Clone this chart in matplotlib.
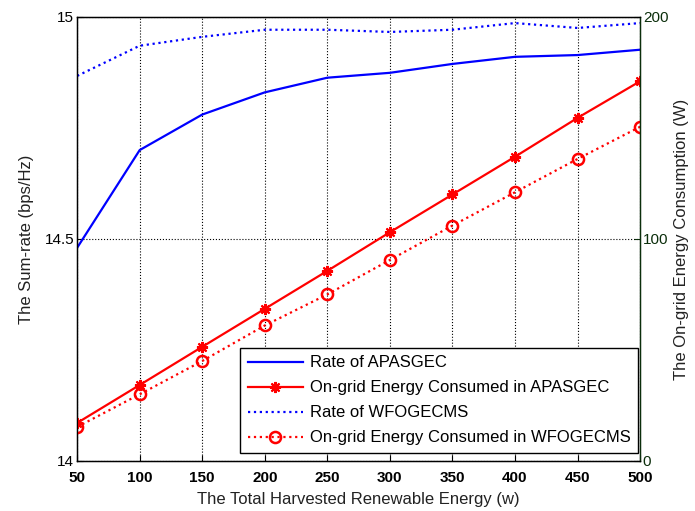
import matplotlib
matplotlib.use('Agg')
import matplotlib.pyplot as plt
import numpy as np

plt.rcParams['font.family'] = ['Liberation Sans', 'DejaVu Sans']

energy = [50, 100, 150, 200, 250, 300, 350, 400, 450, 500]
rate_apasgec = [14.48, 14.70, 14.78, 14.83, 14.863, 14.874, 14.894, 14.91, 14.914, 14.926]
rate_wfogecms = [14.867, 14.935, 14.955, 14.971, 14.971, 14.966, 14.971, 14.986, 14.975, 14.986]
grid_apasgec = [17.1, 34.2, 51.4, 68.5, 85.6, 103, 120, 137, 154.5, 171]
grid_wfogecms = [15.3, 30, 45, 61, 75, 90.5, 106, 121, 136, 150.5]

green = '#0b2e0b'

fig = plt.figure(figsize=(6.95, 5.11), dpi=100)
ax = fig.add_axes([0.111, 0.098, 0.81, 0.869])
ax2 = ax.twinx()

l1, = ax.plot(energy, rate_apasgec, '-', color='blue', lw=1.6, label='Rate of APASGEC')
l3, = ax.plot(energy, rate_wfogecms, ':', color='blue', lw=1.6, label='Rate of WFOGECMS')
l2, = ax2.plot(energy, grid_apasgec, '-', color='red', lw=1.6, marker=(8, 2, 0),
               markersize=8, mew=1.5, label='On-grid Energy Consumed in APASGEC')
l4, = ax2.plot(energy, grid_wfogecms, ':', color='red', lw=1.6, marker='o',
               markersize=8, mfc='none', mew=1.8, label='On-grid Energy Consumed in WFOGECMS')

ax.set_xlim(50, 500)
ax.set_ylim(14, 15)
ax2.set_ylim(0, 200)
ax.set_xticks(energy)
ax.set_yticks([14, 14.5, 15])
ax.set_yticklabels(['14', '14.5', '15'])
ax2.set_yticks([0, 100, 200])
ax.grid(True, color='black', linestyle=':', linewidth=0.8)

ax.tick_params(direction='in', length=4, labelsize=11)
for lab in ax.get_xticklabels():
    lab.set_fontweight('bold')
ax.tick_params(axis='x', pad=7)
ax.tick_params(axis='y', pad=2)
ax2.tick_params(direction='in', length=4, labelsize=11, colors=green, pad=2)
ax2.spines['right'].set_color(green)
for s in ['top', 'left', 'bottom']:
    ax.spines[s].set_linewidth(1.0)
ax2.spines['right'].set_linewidth(1.0)

ax.set_xlabel('The Total Harvested Renewable Energy (w)', fontsize=12, color='#222222', labelpad=5)
ax.set_ylabel('The Sum-rate (bps/Hz)', fontsize=12, color='#222222', labelpad=8)
ax2.set_ylabel('The On-grid Energy Consumption (W)', fontsize=12, color='#222222', labelpad=4)

leg = ax2.legend(handles=[l1, l2, l3, l4], loc='lower right', bbox_to_anchor=(0.997, 0.018),
                 fontsize=12, fancybox=False, edgecolor='black', framealpha=1,
                 borderaxespad=0.0, handlelength=3.3, handletextpad=0.45,
                 labelspacing=0.6, borderpad=0.45)
leg.get_frame().set_linewidth(1.0)

fig.savefig('out.png', dpi=100)
